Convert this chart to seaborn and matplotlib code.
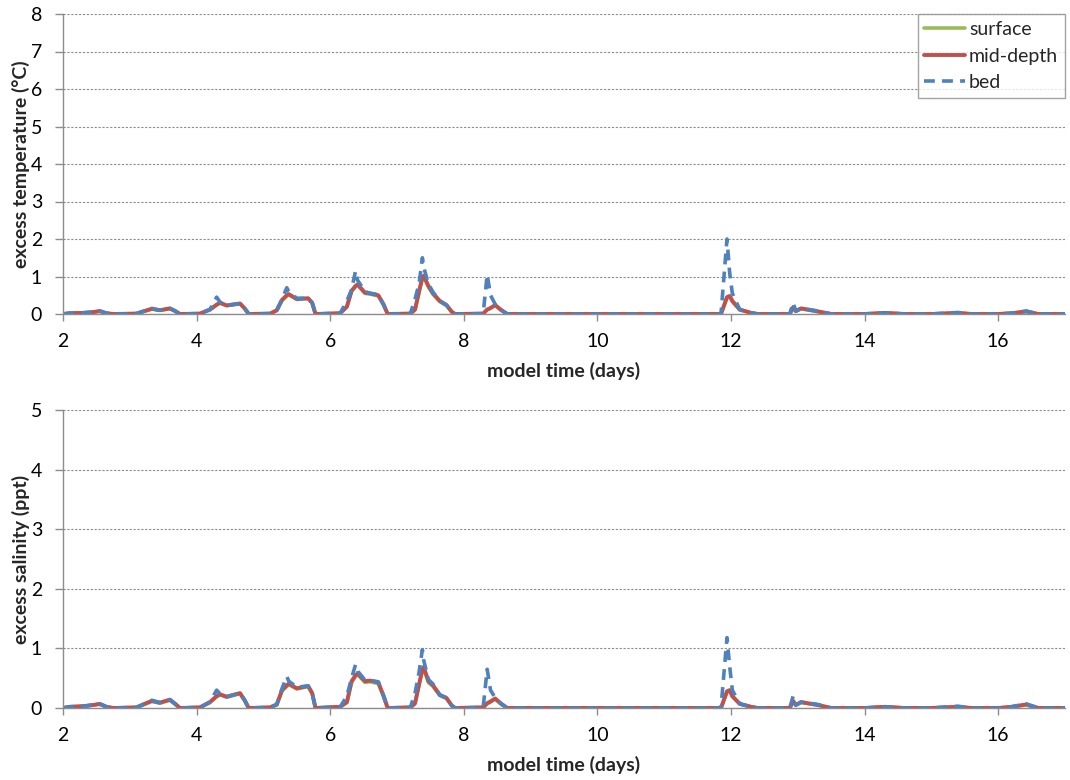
import matplotlib
matplotlib.use("Agg")
import matplotlib.pyplot as plt
import seaborn as sns
import pandas as pd

sns.set_theme(style="white")
plt.rcParams['font.family'] = ['Lato', 'DejaVu Sans']

# ---------------- data ----------------
time_days = [2.0, 2.1, 2.3, 2.45, 2.55, 2.65, 2.75, 3.1, 3.2, 3.33, 3.45, 3.6, 3.68, 3.75,
             4.05, 4.2, 4.3, 4.35, 4.45, 4.65, 4.72, 4.78, 5.1, 5.2, 5.28, 5.35, 5.38, 5.5,
             5.67, 5.73, 5.78, 6.15, 6.25, 6.32, 6.38, 6.41, 6.52, 6.6, 6.72, 6.8, 6.86,
             7.2, 7.27, 7.33, 7.38, 7.40, 7.47, 7.54, 7.64, 7.74, 7.82, 7.87, 8.29, 8.35,
             8.40, 8.47, 8.55, 8.65, 11.85, 11.94, 11.98, 12.02, 12.13, 12.3, 12.4, 12.88,
             12.93, 12.97, 13.05, 13.3, 13.5, 14.0, 14.3, 14.6, 15.0, 15.4, 15.6, 16.0,
             16.2, 16.42, 16.6, 17.0]

temp_surface = [0, 0.02, 0.03, 0.05, 0.07, 0.02, 0, 0.01, 0.06, 0.13, 0.1, 0.14, 0.07, 0,
                0.01, 0.11, 0.24, 0.29, 0.22, 0.27, 0.14, 0, 0.01, 0.09, 0.36, 0.48, 0.51, 0.39,
                0.41, 0.29, 0, 0.02, 0.19, 0.6, 0.73, 0.77, 0.55, 0.53, 0.48, 0.24, 0,
                0.01, 0.11, 0.58, 0.95, 0.99, 0.72, 0.52, 0.33, 0.23, 0.05, 0, 0.01, 0.11,
                0.15, 0.23, 0.11, 0, 0, 0.43, 0.46, 0.33, 0.11, 0.03, 0, 0,
                0.17, 0.07, 0.14, 0.06, 0, 0, 0.03, 0, 0, 0.03, 0, 0,
                0.02, 0.06, 0, 0]
temp_mid = [0, 0.02, 0.03, 0.05, 0.08, 0.02, 0, 0.01, 0.07, 0.14, 0.1, 0.15, 0.08, 0,
            0.01, 0.12, 0.25, 0.3, 0.23, 0.28, 0.15, 0, 0.01, 0.1, 0.38, 0.5, 0.53, 0.4,
            0.42, 0.3, 0, 0.02, 0.2, 0.62, 0.75, 0.79, 0.57, 0.55, 0.5, 0.25, 0,
            0.01, 0.12, 0.6, 0.98, 1.02, 0.75, 0.55, 0.35, 0.24, 0.06, 0, 0.01, 0.12,
            0.16, 0.24, 0.12, 0, 0, 0.45, 0.48, 0.35, 0.12, 0.03, 0, 0,
            0.18, 0.08, 0.15, 0.07, 0, 0, 0.03, 0, 0, 0.03, 0, 0,
            0.02, 0.07, 0, 0]
temp_bed = [0, 0.02, 0.03, 0.05, 0.08, 0.02, 0, 0.01, 0.07, 0.15, 0.1, 0.15, 0.08, 0,
            0.01, 0.12, 0.45, 0.32, 0.23, 0.28, 0.15, 0, 0.01, 0.1, 0.4, 0.7, 0.6, 0.42,
            0.42, 0.3, 0, 0.02, 0.35, 0.65, 1.15, 0.9, 0.6, 0.55, 0.52, 0.25, 0,
            0.01, 0.4, 0.8, 1.5, 1.25, 0.8, 0.58, 0.35, 0.24, 0.06, 0, 0.01, 1.05,
            0.5, 0.26, 0.12, 0, 0, 2.0, 1.1, 0.55, 0.12, 0.03, 0, 0,
            0.3, 0.08, 0.15, 0.08, 0, 0, 0.03, 0, 0, 0.04, 0, 0,
            0.02, 0.08, 0, 0]

sal_surface = [0, 0.02, 0.03, 0.05, 0.06, 0.02, 0, 0.01, 0.05, 0.11, 0.08, 0.13, 0.06, 0,
               0.01, 0.09, 0.19, 0.22, 0.18, 0.24, 0.12, 0, 0.01, 0.05, 0.29, 0.36, 0.39, 0.32,
               0.36, 0.24, 0, 0.02, 0.09, 0.43, 0.53, 0.56, 0.43, 0.44, 0.41, 0.19, 0,
               0.01, 0.07, 0.38, 0.62, 0.66, 0.43, 0.36, 0.21, 0.16, 0.04, 0, 0.01, 0.07,
               0.1, 0.15, 0.07, 0, 0, 0.27, 0.29, 0.19, 0.07, 0.02, 0, 0,
               0.11, 0.05, 0.09, 0.05, 0, 0, 0.02, 0, 0, 0.02, 0, 0,
               0.02, 0.05, 0, 0]
sal_mid = [0, 0.02, 0.03, 0.05, 0.07, 0.02, 0, 0.01, 0.06, 0.12, 0.09, 0.14, 0.07, 0,
           0.01, 0.1, 0.2, 0.23, 0.19, 0.25, 0.13, 0, 0.01, 0.06, 0.3, 0.38, 0.41, 0.33,
           0.37, 0.25, 0, 0.02, 0.1, 0.45, 0.55, 0.58, 0.45, 0.46, 0.43, 0.2, 0,
           0.01, 0.08, 0.4, 0.65, 0.69, 0.45, 0.38, 0.22, 0.17, 0.04, 0, 0.01, 0.08,
           0.11, 0.16, 0.08, 0, 0, 0.28, 0.3, 0.2, 0.07, 0.02, 0, 0,
           0.12, 0.05, 0.1, 0.05, 0, 0, 0.02, 0, 0, 0.02, 0, 0,
           0.02, 0.06, 0, 0]
sal_bed = [0, 0.02, 0.03, 0.05, 0.07, 0.02, 0, 0.01, 0.06, 0.13, 0.09, 0.14, 0.07, 0,
           0.01, 0.1, 0.3, 0.24, 0.19, 0.25, 0.13, 0, 0.01, 0.06, 0.33, 0.53, 0.45, 0.35,
           0.37, 0.25, 0, 0.02, 0.2, 0.5, 0.73, 0.62, 0.47, 0.46, 0.44, 0.2, 0,
           0.01, 0.25, 0.6, 0.98, 0.8, 0.48, 0.4, 0.22, 0.17, 0.04, 0, 0.01, 0.65,
           0.3, 0.17, 0.08, 0, 0, 1.18, 0.7, 0.3, 0.07, 0.02, 0, 0,
           0.2, 0.05, 0.1, 0.06, 0, 0, 0.02, 0, 0, 0.03, 0, 0,
           0.02, 0.07, 0, 0]

series_names = ["surface", "mid-depth", "bed"]
series_colors = {"surface": "#9BBB59", "mid-depth": "#C0504D", "bed": "#4F81BD"}

# ---------------- figure ----------------
fig = plt.figure(figsize=(10.7, 7.8), dpi=100)
ax_top = fig.add_axes([63 / 1070, 1 - 314 / 780, 1002 / 1070, 300 / 780])
ax_bot = fig.add_axes([63 / 1070, 1 - 708 / 780, 1002 / 1070, 298 / 780])


def draw(ax, surface, mid, bed, ymax, ylabel, legend):
    df = pd.DataFrame({"t": time_days, "surface": surface, "mid-depth": mid, "bed": bed})
    sns.lineplot(data=df, x="t", y="surface", ax=ax, color=series_colors["surface"],
                 lw=2.6, label="surface")
    sns.lineplot(data=df, x="t", y="mid-depth", ax=ax, color=series_colors["mid-depth"],
                 lw=2.8, label="mid-depth")
    sns.lineplot(data=df, x="t", y="bed", ax=ax, color=series_colors["bed"],
                 lw=2.6, label="bed", linestyle=(0, (3.0, 2.0)))
    ax.set_xlim(2, 17)
    ax.set_ylim(0, ymax)
    ax.set_xticks([2, 4, 6, 8, 10, 12, 14, 16])
    ax.set_yticks(range(0, ymax + 1))
    ax.grid(axis="y", color="#8c8c8c", linestyle=(0, (2, 1.5)), lw=0.8)
    ax.grid(axis="x", visible=False)
    ax.set_axisbelow(True)
    for s in ["top", "right"]:
        ax.spines[s].set_visible(False)
    for s in ["left", "bottom"]:
        ax.spines[s].set_color("#8c8c8c")
        ax.spines[s].set_linewidth(1.0)
    ax.tick_params(axis="x", which="both", bottom=True, length=5, width=1,
                   color="#8c8c8c", labelsize=14, pad=9, labelcolor="black")
    ax.tick_params(axis="y", which="both", left=True, length=6, width=1,
                   color="#8c8c8c", labelsize=14, pad=9, labelcolor="black")
    ax.set_xlabel("model time (days)", fontsize=14, fontweight="bold", labelpad=8)
    ax.set_ylabel(ylabel, fontsize=14, fontweight="bold")
    ax.yaxis.set_label_coords(-0.033, 0.5)
    if legend:
        leg = ax.legend(loc="upper right", bbox_to_anchor=(1.0, 1.0), fontsize=14,
                        frameon=True, fancybox=False, handlelength=2.1,
                        handletextpad=0.2, borderpad=0.35, labelspacing=0.5,
                        borderaxespad=0.0)
        leg.get_frame().set_edgecolor("#8c8c8c")
        leg.get_frame().set_linewidth(1.0)
    elif ax.get_legend() is not None:
        ax.get_legend().remove()


draw(ax_top, temp_surface, temp_mid, temp_bed, 8, "excess temperature (°C)", True)
draw(ax_bot, sal_surface, sal_mid, sal_bed, 5, "excess salinity (ppt)", False)

fig.savefig("out.png", dpi=100)
